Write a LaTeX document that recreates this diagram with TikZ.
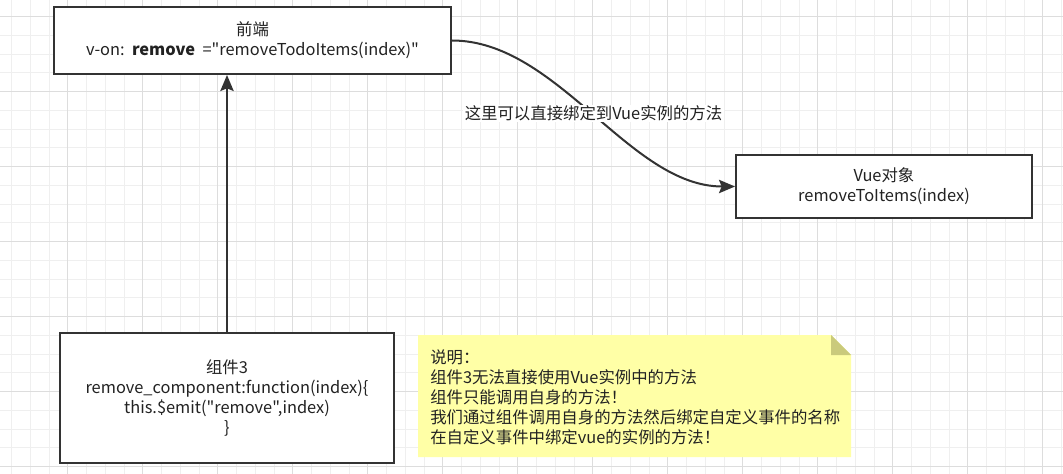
\documentclass[tikz,border=0pt]{standalone}
\usepackage{fontspec}
\setmainfont{Noto Sans CJK SC}[Ligatures=TeXOff]
\usetikzlibrary{arrows.meta}
\definecolor{gridminor}{HTML}{EFEFEF}
\definecolor{gridmajor}{HTML}{DDDDDD}
\definecolor{edge}{HTML}{333333}
\definecolor{txt}{HTML}{222222}
\definecolor{notefill}{HTML}{FFFFA6}
\definecolor{notefold}{HTML}{CACA7C}
\tikzset{
  box/.style={draw=edge, line width=1.5pt, fill=white, align=center, text=txt,
    font=\fontsize{12.3pt}{15pt}\selectfont, inner sep=0pt},
  conn/.style={draw=edge, line width=1.5pt, -{Stealth[length=12pt,width=10pt,inset=2pt]}},
  lbl/.style={fill=white, text=txt, font=\fontsize{12.3pt}{15pt}\selectfont, inner sep=1pt},
  notetext/.style={align=left, text=txt, font=\fontsize{12.3pt}{15pt}\selectfont, inner sep=0pt}
}
\begin{document}
\begin{tikzpicture}[x=0.75pt,y=-0.75pt]
\useasboundingbox (0,0) rectangle (1063,474);
\fill[white] (0,0) rectangle (1063,474);
\begin{scope}
\clip (0,0) rectangle (1063,474);
\foreach \k in {0,...,56} \draw[gridminor, line width=0.75pt] (11.7+18.75*\k,0) -- (11.7+18.75*\k,474);
\foreach \k in {0,...,25} \draw[gridminor, line width=0.75pt] (0,16.7+18.75*\k) -- (1063,16.7+18.75*\k);
\foreach \k in {0,...,14} \draw[gridmajor, line width=0.75pt] (67.7+75*\k,0) -- (67.7+75*\k,474);
\foreach \k in {0,...,6} \draw[gridmajor, line width=0.75pt] (0,16.7+75*\k) -- (1063,16.7+75*\k);
\end{scope}

\node[box, minimum width=297.75pt, minimum height=50.25pt] (front) at (252.5,40.5)
  {前端\\v-on:\ \ \textbf{remove}\ \ ="removeTodoItems(index)"};
\node[box, minimum width=222pt, minimum height=47.25pt] (vue) at (884,186.5)
  {Vue对象\\removeToItems(index)};
\node[box, minimum width=250.5pt, minimum height=97.5pt] (comp) at (227,398)
  {组件3\\remove\_component:function(index)\{\\this.\$emit("remove",index)\\\}};

\fill[notefill] (418,335) -- (831,335) -- (851,355) -- (851,457) -- (418,457) -- cycle;
\fill[notefold] (831,335) -- (851,355) -- (831,355) -- cycle;
\node[notetext, anchor=west] (note) at (430,397)
  {说明：\\组件3无法直接使用Vue实例中的方法\\组件只能调用自身的方法！\\我们通过组件调用自身的方法然后绑定自定义事件的名称\\在自定义事件中绑定vue的实例的方法！};

\draw[conn] (comp.north) -- (comp.north |- front.south);
\draw[conn] (front.east) to[out=0, in=180, looseness=0.85]
  node[lbl, pos=0.5] (lab) {这里可以直接绑定到Vue实例的方法} (vue.west);
\end{tikzpicture}
\end{document}
